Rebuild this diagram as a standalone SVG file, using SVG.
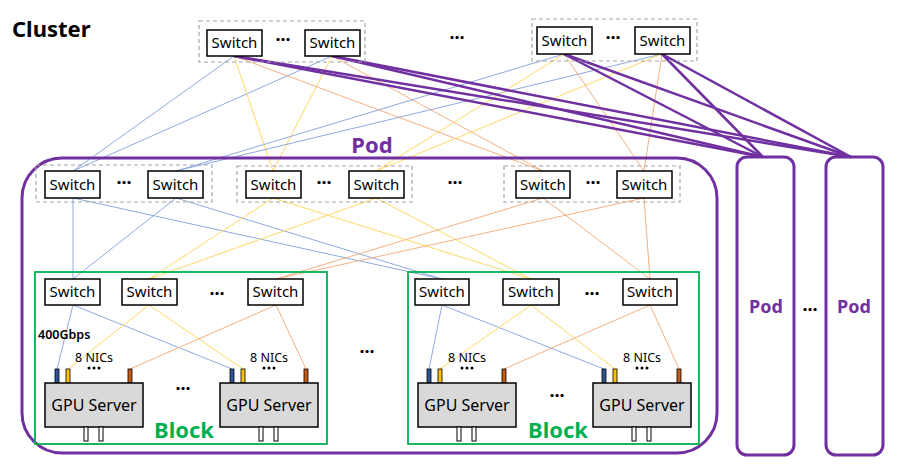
<svg xmlns="http://www.w3.org/2000/svg" width="900" height="469" viewBox="0 0 900 469">
<style>
.sw{fill:#fff;stroke:#000;stroke-width:1.5}
.swt{font-family:"Noto Sans","Open Sans",sans-serif;font-size:15px;fill:#000;text-anchor:middle}
.grp{fill:none;stroke:#A6A6A6;stroke-width:1.2;stroke-dasharray:4 3}
.dots{font-family:"Noto Sans",sans-serif;font-size:18px;font-weight:bold;fill:#000;text-anchor:middle}
.bl{stroke:#8FAADC;stroke-width:1;fill:none}
.ye{stroke:#FFD966;stroke-width:1;fill:none}
.or{stroke:#F4B183;stroke-width:1;fill:none}
.pu{stroke:#7030A0;stroke-width:2.5;fill:none}
.srv{fill:#D9D9D9;stroke:#000;stroke-width:1.5}
.srvt{font-family:"Noto Sans","Open Sans",sans-serif;font-size:16px;fill:#000;text-anchor:middle}
.leg{fill:#fff;stroke:#000;stroke-width:1}
.small{font-family:"Noto Sans","Open Sans",sans-serif;font-size:12.5px;fill:#000}
.nd{fill:#000}
.blk{fill:none;stroke:#00B050;stroke-width:1.8}
.blkt{font-family:"Noto Sans","Open Sans",sans-serif;font-size:22px;font-weight:bold;fill:#00B050;text-anchor:middle}
.podt{font-family:"Noto Sans","Open Sans",sans-serif;font-weight:bold;fill:#7030A0;text-anchor:middle}
</style>

<g id="connectors">
  <line class="bl" x1="234" y1="56" x2="73" y2="171"/>
  <line class="bl" x1="332" y1="56" x2="73" y2="171"/>
  <line class="ye" x1="234" y1="56" x2="273" y2="171"/>
  <line class="ye" x1="332" y1="56" x2="273" y2="171"/>
  <line class="or" x1="234" y1="56" x2="543" y2="171"/>
  <line class="or" x1="332" y1="56" x2="543" y2="171"/>
  <line class="bl" x1="564" y1="54" x2="176" y2="171"/>
  <line class="bl" x1="662" y1="54" x2="176" y2="171"/>
  <line class="ye" x1="564" y1="54" x2="376" y2="171"/>
  <line class="ye" x1="662" y1="54" x2="376" y2="171"/>
  <line class="or" x1="564" y1="54" x2="644" y2="171"/>
  <line class="or" x1="662" y1="54" x2="644" y2="171"/>
  <line class="pu" x1="234" y1="56" x2="763" y2="157"/>
  <line class="pu" x1="234" y1="56" x2="851" y2="157"/>
  <line class="pu" x1="332" y1="56" x2="763" y2="157"/>
  <line class="pu" x1="332" y1="56" x2="851" y2="157"/>
  <line class="pu" x1="564" y1="54" x2="763" y2="157"/>
  <line class="pu" x1="564" y1="54" x2="851" y2="157"/>
  <line class="pu" x1="662" y1="54" x2="763" y2="157"/>
  <line class="pu" x1="662" y1="54" x2="851" y2="157"/>
  <line class="bl" x1="73" y1="198" x2="73" y2="279"/>
  <line class="bl" x1="73" y1="198" x2="442" y2="279"/>
  <line class="bl" x1="176" y1="198" x2="73" y2="279"/>
  <line class="bl" x1="176" y1="198" x2="442" y2="279"/>
  <line class="ye" x1="273" y1="198" x2="149" y2="279"/>
  <line class="ye" x1="273" y1="198" x2="531" y2="279"/>
  <line class="ye" x1="376" y1="198" x2="149" y2="279"/>
  <line class="ye" x1="376" y1="198" x2="531" y2="279"/>
  <line class="or" x1="543" y1="198" x2="276" y2="279"/>
  <line class="or" x1="543" y1="198" x2="650" y2="279"/>
  <line class="or" x1="644" y1="198" x2="276" y2="279"/>
  <line class="or" x1="644" y1="198" x2="650" y2="279"/>
  <line class="bl" x1="73" y1="305" x2="57" y2="369"/>
  <line class="bl" x1="73" y1="305" x2="232" y2="369"/>
  <line class="ye" x1="149" y1="305" x2="68" y2="369"/>
  <line class="ye" x1="149" y1="305" x2="243" y2="369"/>
  <line class="or" x1="276" y1="305" x2="130" y2="369"/>
  <line class="or" x1="276" y1="305" x2="306" y2="369"/>
  <line class="bl" x1="442" y1="305" x2="429" y2="369"/>
  <line class="bl" x1="442" y1="305" x2="604" y2="369"/>
  <line class="ye" x1="531" y1="305" x2="440" y2="369"/>
  <line class="ye" x1="531" y1="305" x2="615" y2="369"/>
  <line class="or" x1="650" y1="305" x2="504" y2="369"/>
  <line class="or" x1="650" y1="305" x2="679" y2="369"/>
</g>

<text x="12" y="37" font-family="Noto Sans,Open Sans,sans-serif" font-size="22" font-weight="bold" fill="#000">Cluster</text>

<g id="cluster-switches-1">
  <rect class="grp" x="199" y="21" width="166" height="41"/>
  <rect class="sw" x="207" y="30" width="55" height="26"/>
  <text class="swt" x="234.5" y="48">Switch</text>
  <text class="dots" x="283" y="46">···</text>
  <rect class="sw" x="305" y="30" width="55" height="26"/>
  <text class="swt" x="332.5" y="48">Switch</text>
</g>
<text class="dots" x="457" y="44">···</text>
<g id="cluster-switches-2">
  <rect class="grp" x="532" y="19" width="165" height="42"/>
  <rect class="sw" x="537" y="27" width="55" height="27"/>
  <text class="swt" x="564.5" y="46">Switch</text>
  <text class="dots" x="613" y="44">···</text>
  <rect class="sw" x="635" y="27" width="55" height="27"/>
  <text class="swt" x="662.5" y="46">Switch</text>
</g>

<g id="pod-main">
  <rect x="22" y="158" width="695" height="295" rx="40" ry="40" fill="none" stroke="#7030A0" stroke-width="3"/>
  <text class="podt" x="372" y="153" font-size="22">Pod</text>
</g>

<g id="pod-switches-a">
  <rect class="grp" x="36" y="165" width="176" height="37"/>
  <rect class="sw" x="45" y="171" width="55" height="27"/>
  <text class="swt" x="72.5" y="190">Switch</text>
  <text class="dots" x="124" y="189">···</text>
  <rect class="sw" x="148" y="171" width="55" height="27"/>
  <text class="swt" x="175.5" y="190">Switch</text>
</g>
<g id="pod-switches-b">
  <rect class="grp" x="237" y="166" width="175" height="36"/>
  <rect class="sw" x="246" y="171" width="55" height="27"/>
  <text class="swt" x="273.5" y="190">Switch</text>
  <text class="dots" x="324" y="189">···</text>
  <rect class="sw" x="349" y="171" width="55" height="27"/>
  <text class="swt" x="376.5" y="190">Switch</text>
</g>
<text class="dots" x="455" y="189">···</text>
<g id="pod-switches-c">
  <rect class="grp" x="504" y="166" width="176" height="36"/>
  <rect class="sw" x="516" y="171" width="54" height="27"/>
  <text class="swt" x="543" y="190">Switch</text>
  <text class="dots" x="593" y="189">···</text>
  <rect class="sw" x="617" y="171" width="55" height="27"/>
  <text class="swt" x="644.5" y="190">Switch</text>
</g>

<g id="block-1">
  <rect class="blk" x="35" y="272" width="292" height="172"/>
  <rect class="sw" x="45" y="279" width="55" height="26"/>
  <text class="swt" x="72.5" y="297">Switch</text>
  <rect class="sw" x="122" y="279" width="55" height="26"/>
  <text class="swt" x="149.5" y="297">Switch</text>
  <text class="dots" x="217" y="300">···</text>
  <rect class="sw" x="248" y="279" width="55" height="26"/>
  <text class="swt" x="275.5" y="297">Switch</text>
  <text class="small" x="38" y="339" font-weight="600">400Gbps</text>
  <text class="blkt" x="184" y="438">Block</text>
</g>
<g id="server-1">
  <text class="small" x="75" y="362">8 NICs</text>
  <circle class="nd" cx="89" cy="368" r="1.5"/><circle class="nd" cx="94" cy="368" r="1.5"/><circle class="nd" cx="99" cy="368" r="1.5"/>
  <rect x="55" y="369" width="4" height="14" fill="#2F5597" stroke="#000" stroke-width="0.8"/>
  <rect x="66" y="369" width="4" height="14" fill="#FFC000" stroke="#000" stroke-width="0.8"/>
  <rect x="128" y="369" width="4" height="14" fill="#C55A11" stroke="#000" stroke-width="0.8"/>
  <rect class="srv" x="45" y="383" width="98" height="44"/>
  <text class="srvt" x="94" y="411">GPU Server</text>
  <rect class="leg" x="84" y="427" width="4" height="14"/>
  <rect class="leg" x="99" y="427" width="4" height="14"/>
</g>
<text class="dots" x="183" y="395">···</text>
<g id="server-2">
  <text class="small" x="250" y="362">8 NICs</text>
  <circle class="nd" cx="264" cy="368" r="1.5"/><circle class="nd" cx="269" cy="368" r="1.5"/><circle class="nd" cx="274" cy="368" r="1.5"/>
  <rect x="230" y="369" width="4" height="14" fill="#2F5597" stroke="#000" stroke-width="0.8"/>
  <rect x="241" y="369" width="4" height="14" fill="#FFC000" stroke="#000" stroke-width="0.8"/>
  <rect x="304" y="369" width="4" height="14" fill="#C55A11" stroke="#000" stroke-width="0.8"/>
  <rect class="srv" x="220" y="383" width="98" height="44"/>
  <text class="srvt" x="269" y="411">GPU Server</text>
  <rect class="leg" x="259" y="427" width="4" height="14"/>
  <rect class="leg" x="274" y="427" width="4" height="14"/>
</g>

<text class="dots" x="367" y="358">···</text>

<g id="block-2">
  <rect class="blk" x="408" y="272" width="291" height="172"/>
  <rect class="sw" x="415" y="279" width="54" height="26"/>
  <text class="swt" x="442" y="297">Switch</text>
  <rect class="sw" x="503" y="279" width="56" height="26"/>
  <text class="swt" x="531" y="297">Switch</text>
  <text class="dots" x="592" y="300">···</text>
  <rect class="sw" x="623" y="279" width="54" height="26"/>
  <text class="swt" x="650" y="297">Switch</text>
  <text class="blkt" x="558" y="438">Block</text>
</g>
<g id="server-3">
  <text class="small" x="448" y="362">8 NICs</text>
  <circle class="nd" cx="462" cy="368" r="1.5"/><circle class="nd" cx="467" cy="368" r="1.5"/><circle class="nd" cx="472" cy="368" r="1.5"/>
  <rect x="427" y="369" width="4" height="14" fill="#2F5597" stroke="#000" stroke-width="0.8"/>
  <rect x="438" y="369" width="4" height="14" fill="#FFC000" stroke="#000" stroke-width="0.8"/>
  <rect x="502" y="369" width="4" height="14" fill="#C55A11" stroke="#000" stroke-width="0.8"/>
  <rect class="srv" x="418" y="383" width="98" height="44"/>
  <text class="srvt" x="467" y="411">GPU Server</text>
  <rect class="leg" x="457" y="427" width="4" height="14"/>
  <rect class="leg" x="472" y="427" width="4" height="14"/>
</g>
<text class="dots" x="557" y="402">···</text>
<g id="server-4">
  <text class="small" x="623" y="362">8 NICs</text>
  <circle class="nd" cx="637" cy="368" r="1.5"/><circle class="nd" cx="642" cy="368" r="1.5"/><circle class="nd" cx="647" cy="368" r="1.5"/>
  <rect x="602" y="369" width="4" height="14" fill="#2F5597" stroke="#000" stroke-width="0.8"/>
  <rect x="613" y="369" width="4" height="14" fill="#FFC000" stroke="#000" stroke-width="0.8"/>
  <rect x="677" y="369" width="4" height="14" fill="#C55A11" stroke="#000" stroke-width="0.8"/>
  <rect class="srv" x="593" y="383" width="98" height="44"/>
  <text class="srvt" x="642" y="411">GPU Server</text>
  <rect class="leg" x="632" y="427" width="4" height="14"/>
  <rect class="leg" x="647" y="427" width="4" height="14"/>
</g>

<g id="pod-2">
  <rect x="737" y="157" width="57" height="298" rx="10" ry="10" fill="none" stroke="#7030A0" stroke-width="3"/>
  <text class="podt" x="766" y="313" font-size="18">Pod</text>
</g>
<text class="dots" x="810" y="316">···</text>
<g id="pod-3">
  <rect x="826" y="157" width="57" height="298" rx="10" ry="10" fill="none" stroke="#7030A0" stroke-width="3"/>
  <text class="podt" x="854" y="313" font-size="18">Pod</text>
</g>
</svg>
